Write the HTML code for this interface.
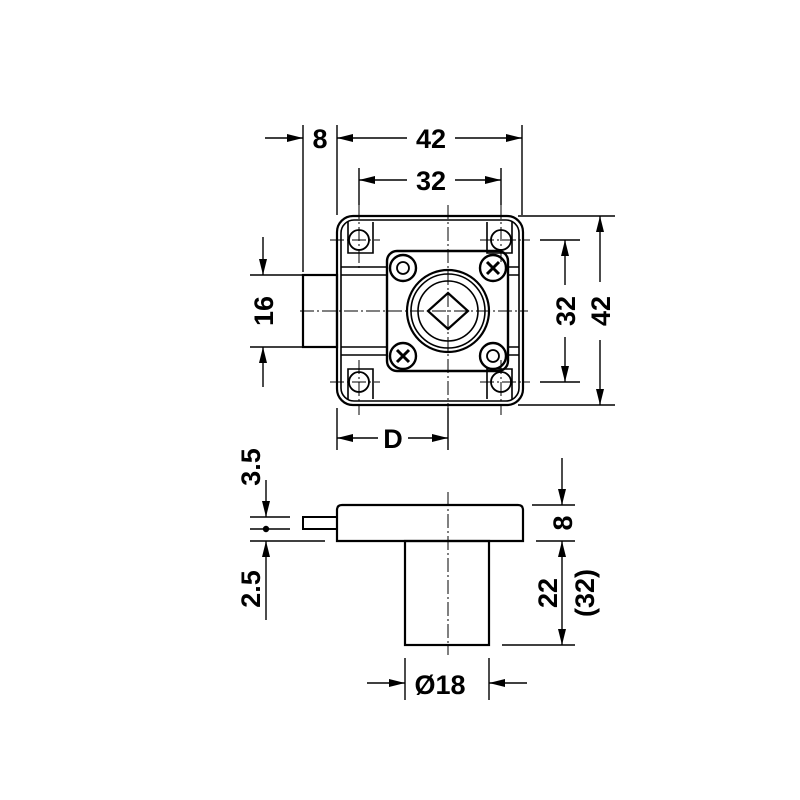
<!DOCTYPE html>
<html><head><meta charset="utf-8"><style>body{margin:0;background:#fff}svg{display:block}</style></head><body>
<svg width="800" height="800" viewBox="0 0 800 800" xmlns="http://www.w3.org/2000/svg">
<defs>
<marker id="a" viewBox="0 0 16 10" refX="16" refY="5" markerWidth="16" markerHeight="10" markerUnits="userSpaceOnUse" orient="auto-start-reverse"><path d="M0,1 L16,5 L0,9 z" fill="#000"/></marker>
</defs>
<g font-family="Liberation Sans, sans-serif" font-weight="bold" font-size="27" text-anchor="middle" fill="#000">
<text x="320" y="148">8</text>
<text x="431" y="148">42</text>
<text x="431" y="190">32</text>
<text x="393" y="448">D</text>
<text x="440" y="694">Ø18</text>
<text transform="translate(273,311) rotate(-90)">16</text>
<text transform="translate(575,311) rotate(-90)">32</text>
<text transform="translate(610,311) rotate(-90)">42</text>
<text transform="translate(572,523) rotate(-90)">8</text>
<text transform="translate(260,467) rotate(-90)">3.5</text>
<text transform="translate(260,589) rotate(-90)">2.5</text>
<text transform="translate(557,593) rotate(-90)">22</text>
<text transform="translate(594,593) rotate(-90)">(32)</text>
</g>
<g stroke="#000" fill="none" stroke-width="1.4">
<line x1="303" y1="125" x2="303" y2="272"/>
<line x1="337" y1="125" x2="337" y2="215"/>
<line x1="522" y1="125" x2="522" y2="215"/>
<line x1="359" y1="168" x2="359" y2="205"/>
<line x1="501" y1="168" x2="501" y2="205"/>
<line x1="518" y1="216" x2="615" y2="216"/>
<line x1="518" y1="405" x2="615" y2="405"/>
<line x1="540" y1="240" x2="580" y2="240"/>
<line x1="540" y1="382" x2="580" y2="382"/>
<line x1="250" y1="275" x2="302" y2="275"/>
<line x1="250" y1="347" x2="302" y2="347"/>
<line x1="337" y1="408" x2="337" y2="450"/>
<line x1="448" y1="408" x2="448" y2="450"/>
<line x1="265" y1="138" x2="303" y2="138" marker-end="url(#a)"/>
<line x1="337" y1="138" x2="407" y2="138" marker-start="url(#a)"/>
<line x1="455" y1="138" x2="522" y2="138" marker-end="url(#a)"/>
<line x1="359" y1="180" x2="407" y2="180" marker-start="url(#a)"/>
<line x1="455" y1="180" x2="501" y2="180" marker-end="url(#a)"/>
<line x1="263" y1="237" x2="263" y2="275" marker-end="url(#a)"/>
<line x1="263" y1="387" x2="263" y2="347" marker-end="url(#a)"/>
<line x1="565" y1="240" x2="565" y2="285" marker-start="url(#a)"/>
<line x1="565" y1="337" x2="565" y2="382" marker-end="url(#a)"/>
<line x1="600" y1="216" x2="600" y2="282" marker-start="url(#a)"/>
<line x1="600" y1="340" x2="600" y2="405" marker-end="url(#a)"/>
<line x1="337" y1="438" x2="378" y2="438" marker-start="url(#a)"/>
<line x1="408" y1="438" x2="448" y2="438" marker-end="url(#a)"/>
<rect x="337" y="216" width="186" height="189" rx="16" stroke-width="2.2"/>
<rect x="341" y="220" width="178" height="181" rx="13" stroke-width="1.6"/>
<path d="M348 222 V253 H373 V222 M512 222 V253 H487 V222 M348 399 V369 H373 V399 M512 399 V369 H487 V399" stroke-width="1.6"/>
<circle cx="359" cy="240" r="10" stroke-width="1.8"/>
<circle cx="501" cy="240" r="10" stroke-width="1.8"/>
<circle cx="359" cy="382" r="10" stroke-width="1.8"/>
<circle cx="501" cy="382" r="10" stroke-width="1.8"/>
<path d="M341 267 H387 M341 275 H387 M341 347 H387 M341 355 H387 M508 267 H519 M508 275 H519 M508 347 H519 M508 355 H519" stroke-width="1.6"/>
<rect x="303" y="275" width="34" height="72" stroke-width="2.2"/>
<rect x="387" y="251" width="121" height="120" rx="10" stroke-width="2.4"/>
<circle cx="403" cy="268" r="13" stroke-width="2.4"/><circle cx="403" cy="268" r="6" stroke-width="1.8"/>
<circle cx="493" cy="268" r="13" stroke-width="2.4"/><path d="M487 262 L499 274 M499 262 L487 274" stroke-width="3"/>
<circle cx="403" cy="356" r="13" stroke-width="2.4"/><path d="M397 350 L409 362 M409 350 L397 362" stroke-width="3"/>
<circle cx="493" cy="356" r="13" stroke-width="2.4"/><circle cx="493" cy="356" r="6" stroke-width="1.8"/>
<circle cx="448" cy="311" r="41" stroke-width="2.2"/>
<circle cx="448" cy="311" r="37" stroke-width="1.6"/>
<circle cx="448" cy="311" r="30" stroke-width="1.6"/>
<path d="M448 293 L468 311 L448 329 L428 311 Z" stroke-width="2.2"/>
<g stroke-dasharray="14 3 2 3" stroke-width="1">
<line x1="448" y1="205" x2="448" y2="415"/>
<line x1="300" y1="311" x2="528" y2="311"/>
<line x1="359" y1="205" x2="359" y2="268"/><line x1="359" y1="360" x2="359" y2="415"/>
<line x1="501" y1="205" x2="501" y2="262"/><line x1="501" y1="360" x2="501" y2="415"/>
<line x1="330" y1="240" x2="380" y2="240"/><line x1="480" y1="240" x2="530" y2="240"/>
<line x1="330" y1="382" x2="380" y2="382"/><line x1="480" y1="382" x2="530" y2="382"/>
</g>
<path d="M337 541 V510 Q337 505 342 505 H518 Q523 505 523 510 V541 Z" stroke-width="2.2"/>
<rect x="303" y="517" width="34" height="12" stroke-width="2"/>
<rect x="405" y="541" width="84" height="104" stroke-width="2.2"/>
<line x1="448" y1="492" x2="448" y2="655" stroke-dasharray="14 3 2 3" stroke-width="1"/>
<line x1="250" y1="517" x2="290" y2="517"/>
<line x1="250" y1="529" x2="290" y2="529"/>
<line x1="250" y1="541" x2="325" y2="541"/>
<circle cx="266" cy="529" r="2.5" fill="#000"/>
<line x1="266" y1="480" x2="266" y2="517" marker-end="url(#a)"/>
<line x1="266" y1="620" x2="266" y2="541" marker-end="url(#a)"/>
<line x1="532" y1="505" x2="575" y2="505"/>
<line x1="536" y1="541" x2="575" y2="541"/>
<line x1="502" y1="645" x2="575" y2="645"/>
<line x1="562" y1="458" x2="562" y2="505" marker-end="url(#a)"/>
<line x1="562" y1="541" x2="562" y2="645" marker-start="url(#a)" marker-end="url(#a)"/>
<line x1="405" y1="658" x2="405" y2="700"/>
<line x1="489" y1="658" x2="489" y2="700"/>
<line x1="367" y1="683" x2="405" y2="683" marker-end="url(#a)"/>
<line x1="527" y1="683" x2="489" y2="683" marker-end="url(#a)"/>
</g>
</svg>
</body></html>
